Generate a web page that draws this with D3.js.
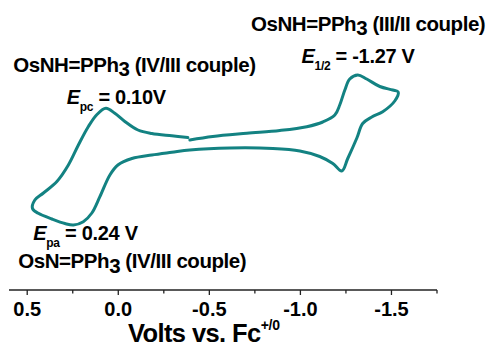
<!DOCTYPE html>
<html>
<head>
<meta charset="utf-8">
<script src="https://cdn.jsdelivr.net/npm/d3@7/dist/d3.min.js"></script>
<style>
  html, body { margin: 0; padding: 0; background: #fff; }
  svg { display: block; }
  text { font-family: "Liberation Sans", Arial, sans-serif; font-weight: bold; fill: #000; }
</style>
</head>
<body>
<svg id="chart" width="486" height="347"></svg>
<script>
// Cyclic voltammogram, one closed scan: potential (V vs. Fc+/0) and current (µA, cathodic up)
const potential = [
  -0.393, -0.519, -0.706, -0.887, -1.035, -1.123, -1.189, -1.216, -1.244, -1.271,
  -1.315, -1.364, -1.436, -1.507, -1.537, -1.518, -1.452, -1.392, -1.342, -1.310,
  -1.260, -1.227, -1.178, -1.106, -0.997, -0.849, -0.613, -0.393, -0.294, -0.184,
  -0.075, 0.002, 0.046, 0.101, 0.145, 0.192, 0.246, 0.293, 0.364, 0.439,
  0.471, 0.458, 0.411, 0.337, 0.274, 0.219, 0.164, 0.117, 0.068, 0.019,
  -0.036, -0.108, -0.184, -0.294, -0.382
];
const current = [
  1.00, 1.35, 1.67, 1.95, 2.33, 2.80, 3.50, 4.50, 6.00, 7.10,
  7.50, 7.10, 6.35, 6.00, 5.80, 4.90, 3.83, 3.30, 2.65, 1.20,
  -0.85, -2.10, -1.35, -0.65, -0.10, 0.15, 0.20, 0.00, -0.23, -0.50,
  -0.85, -1.50, -2.50, -4.67, -6.30, -7.17, -7.50, -7.35, -6.90, -6.33,
  -5.85, -5.00, -4.30, -3.15, -1.50, 0.50, 2.35, 3.55, 4.17, 3.67,
  2.85, 2.00, 1.65, 1.42, 1.25
];

// Axis ticks
const majorTicks = [0.5, 0.0, -0.5, -1.0, -1.5];
const majorTickLabels = ["0.5", "0.0", "-0.5", "-1.0", "-1.5"];
const minorTicks = [0.25, -0.25, -0.75, -1.25, -1.75];

const svg = d3.select("#chart");

const x = d3.scaleLinear().domain([0.6, -1.75]).range([9, 437]);
const y = d3.scaleLinear().domain([-8, 8]).range([230, 70]);

// Voltammogram trace
const pts = potential.map((v, i) => [v, current[i]]);
const line = d3.line()
  .x(d => x(d[0]))
  .y(d => y(d[1]))
  .curve(d3.curveCatmullRom.alpha(0.5));

svg.append("path")
  .datum(pts)
  .attr("d", line)
  .attr("fill", "none")
  .attr("stroke", "#138282")
  .attr("stroke-width", 3)
  .attr("stroke-linejoin", "round")
  .attr("stroke-linecap", "round");

// Bottom axis
const axisY = 290;
const axis = svg.append("g").attr("transform", `translate(0,${axisY})`);
axis.append("line")
  .attr("x1", x.range()[0]).attr("x2", x.range()[1])
  .attr("y1", 0).attr("y2", 0)
  .attr("stroke", "#222").attr("stroke-width", 1.3);

axis.selectAll(".major").data(majorTicks).join("line")
  .attr("class", "major")
  .attr("x1", d => x(d)).attr("x2", d => x(d))
  .attr("y1", 0).attr("y2", 5)
  .attr("stroke", "#222").attr("stroke-width", 1.3);

axis.selectAll(".minor").data(minorTicks).join("line")
  .attr("class", "minor")
  .attr("x1", d => x(d)).attr("x2", d => x(d))
  .attr("y1", 0).attr("y2", 3.5)
  .attr("stroke", "#222").attr("stroke-width", 1.3);

axis.selectAll(".lbl").data(majorTicks).join("text")
  .attr("class", "lbl")
  .attr("x", d => x(d))
  .attr("y", 25.5)
  .attr("text-anchor", "middle")
  .attr("font-size", 20)
  .text((d, i) => majorTickLabels[i]);

// Axis title
const title = svg.append("text")
  .attr("x", 128)
  .attr("y", 341.5)
  .attr("font-size", 25.5)
  .attr("letter-spacing", -0.6);
title.append("tspan").text("Volts vs. Fc");
title.append("tspan").attr("font-size", 14).attr("dy", -11.5).attr("letter-spacing", -0.2).text("+/0");

// Species labels with lowered "3"
function speciesLabel(xp, yp, head, tail) {
  const t = svg.append("text").attr("x", xp).attr("y", yp)
    .attr("font-size", 20.5).attr("letter-spacing", -0.45);
  t.append("tspan").text(head);
  t.append("tspan").attr("dy", 4.5).text("3");
  t.append("tspan").attr("dy", -4.5).text(tail);
}
speciesLabel(251, 30.5, "OsNH=PPh", " (III/II couple)");
speciesLabel(13.3, 71.7, "OsNH=PPh", " (IV/III couple)");
speciesLabel(18.3, 268.3, "OsN=PPh", " (IV/III couple)");

// Potential labels: italic E with subscript
function potentialLabel(xp, yp, sub, rest) {
  const t = svg.append("text").attr("x", xp).attr("y", yp)
    .attr("font-size", 20).attr("letter-spacing", -0.3);
  t.append("tspan").attr("font-style", "italic").text("E");
  t.append("tspan").attr("font-size", 12).attr("dy", 7).text(sub);
  t.append("tspan").attr("dy", -7).text(rest);
}
potentialLabel(301.5, 62.7, "1/2", " = -1.27 V");
potentialLabel(66.7, 104, "pc", " = 0.10V");
potentialLabel(33.3, 240, "pa", " = 0.24 V");
</script>
</body>
</html>
